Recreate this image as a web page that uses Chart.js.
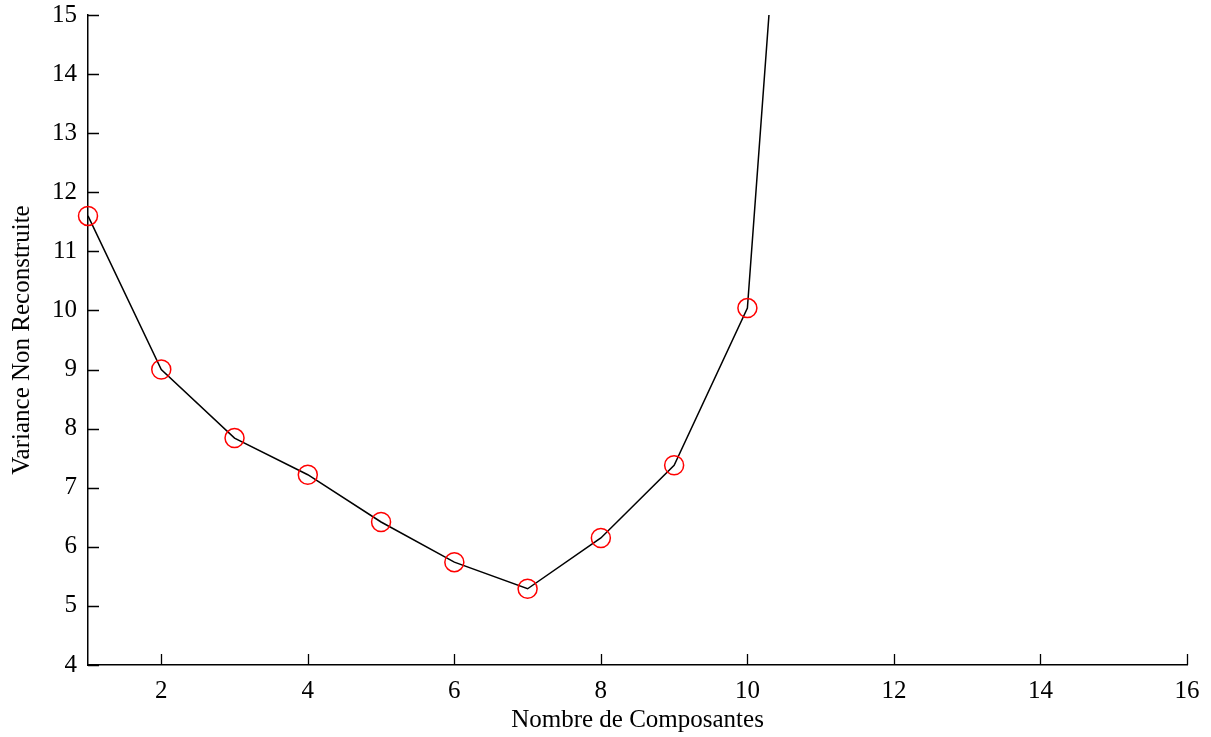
<!DOCTYPE html>
<html>
<head>
<meta charset="utf-8">
<script src="https://cdn.jsdelivr.net/npm/chart.js@4/dist/chart.umd.min.js"></script>
<style>
html,body{margin:0;padding:0;background:#fff;}
#wrap{width:1211px;height:737px;}
</style>
</head>
<body>
<div id="wrap"><canvas id="c" width="1211" height="737"></canvas></div>
<script>
const components = [1, 2, 3, 4, 5, 6, 7, 8, 9, 10, 11];
const variance = [11.6, 9.0, 7.84, 7.22, 6.42, 5.74, 5.29, 6.15, 7.38, 10.04, 26.9];
const xTicks = [2, 4, 6, 8, 10, 12, 14, 16];
const yTicks = [4, 5, 6, 7, 8, 9, 10, 11, 12, 13, 14, 15];

const FONT = "'Liberation Serif', 'Times New Roman', serif";

const inwardTicks = {
  id: 'inwardTicks',
  afterDatasetsDraw(chart) {
    const ctx = chart.ctx;
    const xs = chart.scales.x, ys = chart.scales.y;
    const area = chart.chartArea;
    ctx.save();
    ctx.strokeStyle = '#000';
    ctx.lineWidth = 1.3;
    ctx.beginPath();
    xs.ticks.forEach(t => {
      const px = Math.round(xs.getPixelForValue(t.value)) + 0.5;
      ctx.moveTo(px, area.bottom);
      ctx.lineTo(px, area.bottom - 11);
    });
    ys.ticks.forEach(t => {
      const py = Math.round(ys.getPixelForValue(t.value)) + 0.5;
      ctx.moveTo(area.left, py);
      ctx.lineTo(area.left + 11, py);
    });
    ctx.stroke();
    ctx.restore();
  }
};

new Chart(document.getElementById('c'), {
  type: 'line',
  data: {
    labels: components,
    datasets: [{
      data: components.map((x, i) => ({x: x, y: variance[i]})),
      borderColor: '#000',
      borderWidth: 1.5,
      tension: 0,
      fill: false,
      clip: {left: 20, top: 0, right: 0, bottom: 0},
      pointStyle: 'circle',
      pointRadius: 9.5,
      pointBorderColor: '#ff0000',
      pointBackgroundColor: 'rgba(0,0,0,0)',
      pointBorderWidth: 1.5
    }]
  },
  options: {
    responsive: false,
    animation: false,
    events: [],
    layout: {padding: {top: 15, right: 24, left: 0, bottom: 0}},
    plugins: {legend: {display: false}, tooltip: {enabled: false}},
    scales: {
      x: {
        type: 'linear',
        min: 1, max: 16,
        afterBuildTicks: s => { s.ticks = xTicks.map(v => ({value: v})); },
        afterFit: s => { s.height = 72; s.paddingLeft = 0; s.paddingRight = 0; },
        grid: {display: false, drawTicks: false},
        border: {display: true, color: '#000', width: 1.5},
        ticks: {color: '#000', font: {family: FONT, size: 25}, padding: 11, maxRotation: 0, autoSkip: false},
        title: {display: true, text: 'Nombre de Composantes', color: '#000', font: {family: FONT, size: 25}, padding: {top: 2, bottom: 2}}
      },
      y: {
        type: 'linear',
        min: 4, max: 15,
        afterBuildTicks: s => { s.ticks = yTicks.map(v => ({value: v})); },
        afterFit: s => { s.width = 88; s.paddingTop = 0; s.paddingBottom = 0; },
        grid: {display: false, drawTicks: false},
        border: {display: true, color: '#000', width: 1.5},
        ticks: {color: '#000', font: {family: FONT, size: 25}, padding: 11, autoSkip: false},
        title: {display: true, text: 'Variance Non Reconstruite', color: '#000', font: {family: FONT, size: 25}, padding: {top: 7, bottom: 4}}
      }
    }
  },
  plugins: [inwardTicks]
});
</script>
</body>
</html>
